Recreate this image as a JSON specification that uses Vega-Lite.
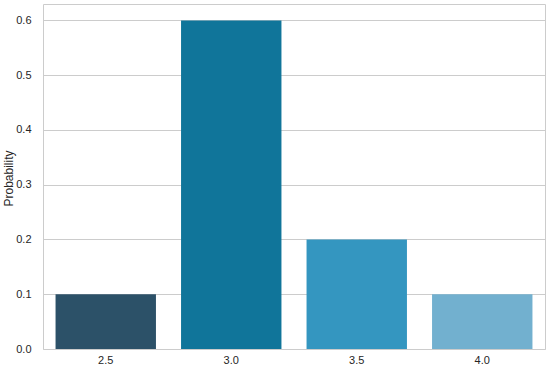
{
  "$schema": "https://vega.github.io/schema/vega-lite/v6.json",
  "autosize": "none",
  "width": 502,
  "height": 345,
  "padding": {"left": 43, "top": 4, "right": 5, "bottom": 20},
  "background": "white",
  "data": {"values": [
    {"x": "2.5", "p": 0.1, "c": "#2c5168"},
    {"x": "3.0", "p": 0.6, "c": "#10759a"},
    {"x": "3.5", "p": 0.2, "c": "#3496c0"},
    {"x": "4.0", "p": 0.1, "c": "#72b0cf"}
  ]},
  "mark": {"type": "bar"},
  "encoding": {
    "x": {"field": "x", "type": "ordinal", "sort": null,
      "scale": {"paddingInner": 0.2, "paddingOuter": 0.1},
      "axis": {"title": null, "labelAngle": 0, "ticks": false, "domain": false, "labelPadding": 5, "labelFont": "Liberation Sans", "labelFontSize": 11, "labelColor": "#262626", "grid": false}},
    "y": {"field": "p", "type": "quantitative",
      "scale": {"domain": [0, 0.63], "nice": false},
      "axis": {"title": "Probability", "values": [0, 0.1, 0.2, 0.3, 0.4, 0.5, 0.6], "format": ".1f", "ticks": false, "domain": false, "labelPadding": 12, "labelFont": "Liberation Sans", "labelFontSize": 11, "labelColor": "#262626", "titleFont": "Liberation Sans", "titleFontSize": 12, "titleFontWeight": "normal", "titleColor": "#262626", "titleX": -31, "titleY": 174, "titleAngle": -90, "titleAlign": "center", "titleBaseline": "alphabetic", "gridColor": "#cccccc", "gridOpacity": 1}},
    "color": {"field": "c", "type": "nominal", "scale": null, "legend": null}
  },
  "config": {"view": {"stroke": "#cccccc", "strokeWidth": 1}}
}
